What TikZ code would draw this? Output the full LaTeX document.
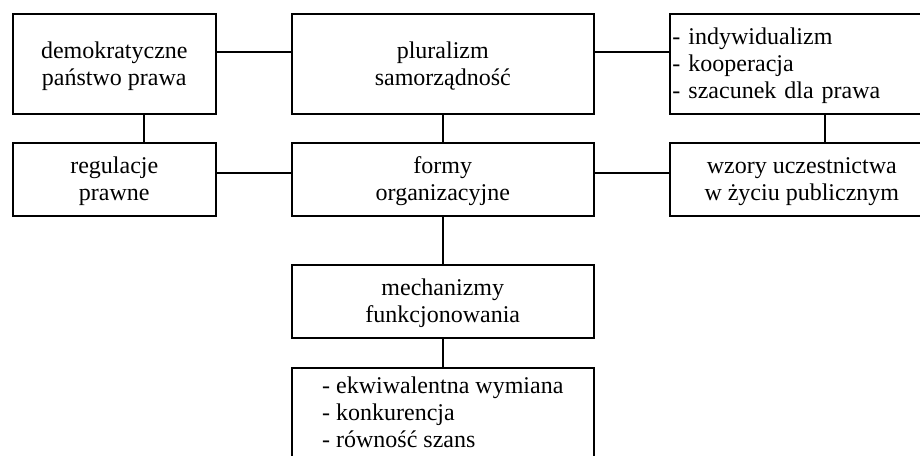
\documentclass[tikz,border=0pt]{standalone}
\usepackage{fontspec}
\setmainfont{Liberation Serif}
\newcommand{\ls}{\rule[-4pt]{0pt}{20.25pt}}
\begin{document}
\begin{tikzpicture}[x=0.75pt,y=-0.75pt,
  box/.style={draw,line width=1.2pt,anchor=north west,inner xsep=2pt,inner ysep=0pt,
    align=center,font=\fontsize{18}{20.25}\selectfont},
  conn/.style={line width=1.2pt}]
\clip (0,0) rectangle (920,456);
% row 1
\node[box,minimum width=152.25pt,minimum height=75pt] (b1) at (12,13)
  {\ls demokratyczne\\\ls państwo prawa};
\node[box,minimum width=226.5pt,minimum height=75pt] (b2) at (291,13)
  {\ls pluralizm\\\ls samorządność};
\node[box,minimum width=198pt,minimum height=75pt,text width=194pt,align=left] (b3) at (669,13)
  {\ls - indywidualizm\\\ls - kooperacja\\\ls - szacunek dla prawa};
% row 2
\node[box,minimum width=152.25pt,minimum height=54.75pt] (b4) at (12,142)
  {\ls regulacje\\\ls prawne};
\node[box,minimum width=226.5pt,minimum height=54.75pt] (b5) at (291,142)
  {\ls formy\\\ls organizacyjne};
\node[box,minimum width=198pt,minimum height=54.75pt] (b6) at (669,142)
  {\ls wzory uczestnictwa\\\ls w życiu publicznym};
% lower column
\node[box,minimum width=226.5pt,minimum height=54.75pt] (b7) at (291,264)
  {\ls mechanizmy\\\ls funkcjonowania};
\node[box,minimum width=226.5pt,minimum height=67.5pt,align=left] (b8) at (291,367)
  {\ls - ekwiwalentna wymiana\\\ls - konkurencja\\\ls - równość szans};
% connector guides
\coordinate (h1) at (0,52);
\coordinate (h2) at (0,173);
\coordinate (v1) at (144,0);
\coordinate (v3) at (825,0);
\draw[conn] (b1.east |- h1) -- (b2.west |- h1);
\draw[conn] (b2.east |- h1) -- (b3.west |- h1);
\draw[conn] (b4.east |- h2) -- (b5.west |- h2);
\draw[conn] (b5.east |- h2) -- (b6.west |- h2);
\draw[conn] (v1 |- b1.south) -- (v1 |- b4.north);
\draw[conn] (b2.south) -- (b5.north);
\draw[conn] (v3 |- b3.south) -- (v3 |- b6.north);
\draw[conn] (b5.south) -- (b7.north);
\draw[conn] (b7.south) -- (b8.north);
\end{tikzpicture}
\end{document}
